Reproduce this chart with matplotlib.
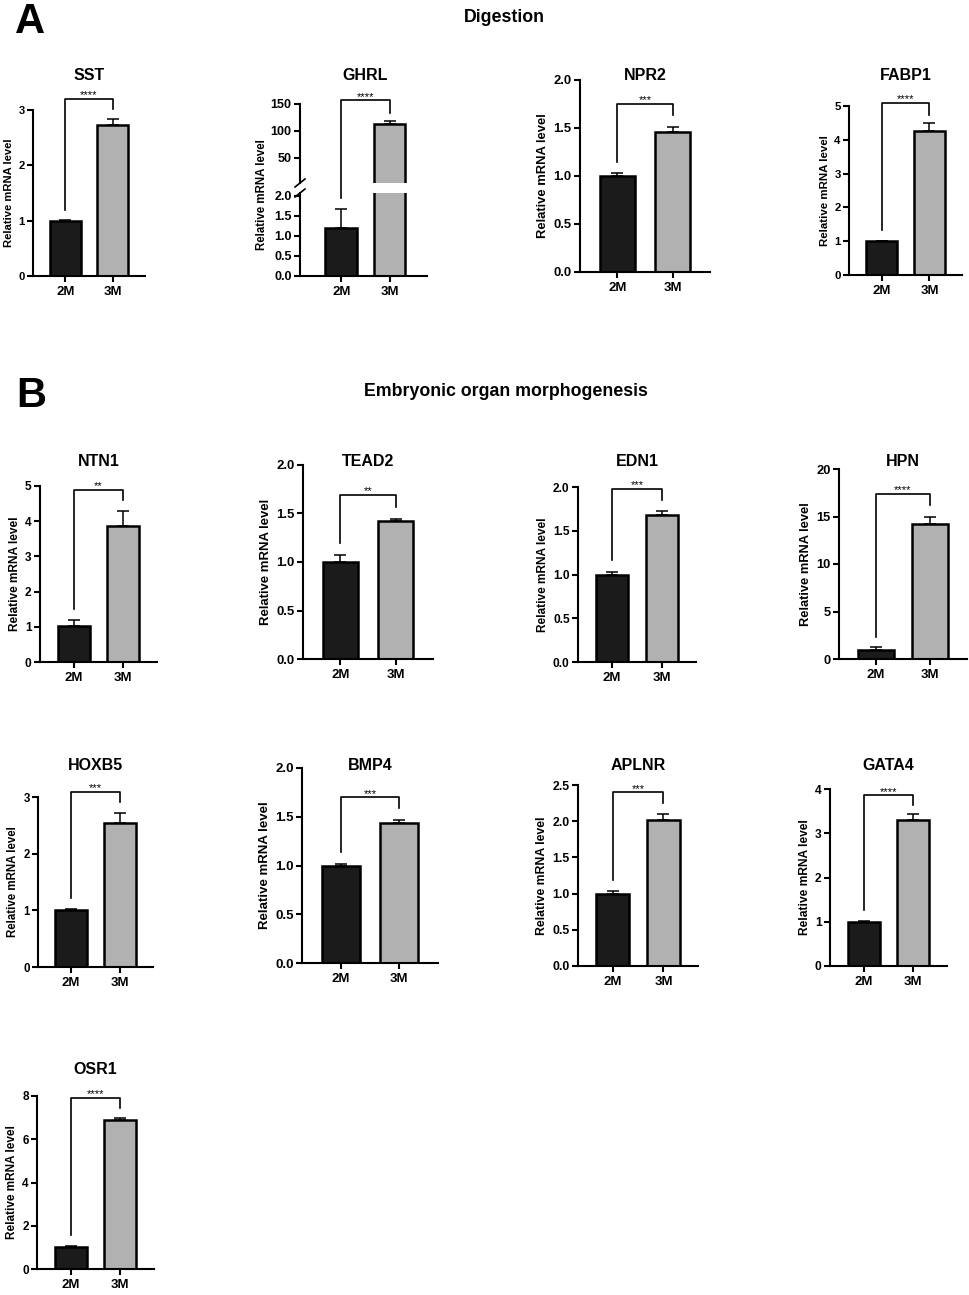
import matplotlib
matplotlib.use("Agg")
import matplotlib.pyplot as plt
from matplotlib import transforms
from matplotlib.lines import Line2D

plt.rcParams["font.family"] = ["Liberation Sans", "DejaVu Sans"]
plt.rcParams["font.weight"] = "bold"
plt.rcParams["axes.labelweight"] = "bold"

W, H = 969, 1295

# datos
genes = ["SST", "GHRL", "NPR2", "FABP1", "NTN1", "TEAD2", "EDN1", "HPN",
         "HOXB5", "BMP4", "APLNR", "GATA4", "OSR1"]
grupos = ["2M", "3M"]
media_2m = [1.0, 1.2, 1.0, 1.0, 1.02, 1.0, 1.0, 1.0, 1.0, 1.0, 1.0, 1.0, 1.0]
error_2m = [0.02, 0.48, 0.03, 0.02, 0.18, 0.07, 0.03, 0.3, 0.03, 0.02, 0.04, 0.02, 0.08]
media_3m = [2.73, 113, 1.46, 4.27, 3.85, 1.42, 1.68, 14.25, 2.55, 1.44, 2.02, 3.31, 6.9]
error_3m = [0.11, 6, 0.05, 0.23, 0.45, 0.02, 0.05, 0.7, 0.16, 0.03, 0.08, 0.12, 0.06]
estrellas = ["****", "****", "***", "****", "**", "**", "***", "****",
             "***", "***", "***", "****", "****"]
# corchete de significancia: altura, brazo izquierdo, brazo derecho
corchete_y = [3.2, 157, 1.75, 5.09, 4.89, 1.69, 1.98, 17.4, 3.09, 1.70, 2.40, 3.86, 7.9]
brazo_izq = [1.19, 1.95, 1.15, 1.33, 1.5, 1.2, 1.17, 2.3, 1.22, 1.14, 1.19, 1.27, 1.57]
brazo_der = [3.02, 133, 1.64, 4.73, 4.6, 1.57, 1.85, 16.2, 2.91, 1.59, 2.25, 3.64, 7.45]
y_max = [3, 150, 2.0, 5, 5, 2.0, 2.0, 20, 3, 2.0, 2.5, 4, 8]
y_paso = [1, 50, 0.5, 1, 1, 0.5, 0.5, 5, 1, 0.5, 0.5, 1, 2]

# posicion de cada panel en pixeles: (eje izq, eje der, tope eje y, base, y del titulo)
layout = [
    (33, 145, 110, 276, 75),
    (300, 427, 104, 276, 75),
    (580, 710, 80, 272, 75),
    (849, 962, 106, 275, 75),
    (40, 157, 486, 662, 462),
    (303, 433, 465, 659, 462),
    (578, 696, 487, 662, 462),
    (839, 967, 469, 659, 462),
    (38, 153, 797, 967, 766),
    (302, 438, 768, 963, 766),
    (578, 698, 785, 966, 766),
    (830, 947, 789, 966, 766),
    (37, 154, 1096, 1269, 1069),
]

color_2m = "#1b1b1b"
color_3m = "#b1b1b1"
ancho_barra = 0.65
lw_eje = 1.5


def rect(x0, x1, yt, yb):
    return [x0 / W, 1 - yb / H, (x1 - x0) / W, (yb - yt) / H]


def estilo_eje(ax, fs):
    for s in ["top", "right"]:
        ax.spines[s].set_visible(False)
    for s in ["left", "bottom"]:
        ax.spines[s].set_linewidth(lw_eje)
    ax.tick_params(width=lw_eje, length=4, labelsize=fs, pad=2)
    ax.tick_params(axis="x", labelsize=9.5, pad=3)


def barras(ax, i, con_error=(True, True)):
    x = [0, 1]
    ax.bar(x, [media_2m[i], media_3m[i]], width=ancho_barra,
           color=[color_2m, color_3m], edgecolor="black", linewidth=1.8, zorder=2)
    medias = [media_2m[i], media_3m[i]]
    errores = [error_2m[i], error_3m[i]]
    for k in range(2):
        if con_error[k]:
            ax.errorbar([x[k]], [medias[k]], yerr=[[0], [errores[k]]],
                        fmt="none", ecolor="black", elinewidth=1.1, capsize=4.5,
                        capthick=1.1, zorder=1)


def etiquetas_y(ax, ymax, paso, ymin=0):
    n = int(round((ymax - ymin) / paso))
    ticks = [ymin + k * paso for k in range(n + 1)]
    ax.set_yticks(ticks)
    if paso < 1:
        ax.set_yticklabels(["%.1f" % t for t in ticks])
    else:
        ax.set_yticklabels(["%d" % t for t in ticks])


fig = plt.figure(figsize=(W / 100, H / 100), dpi=100)

for i, gen in enumerate(genes):
    x0, x1, yt, yb, ty = layout[i]
    fs = (yb - yt) / 20.5

    if gen == "GHRL":
        fs = 9
        ax_b = fig.add_axes(rect(x0, x1, 193, yb))
        ax_a = fig.add_axes(rect(x0, x1, yt, 183))
        barras(ax_b, i, (True, False))
        barras(ax_a, i, (False, True))
        for ax in (ax_a, ax_b):
            ax.set_xlim(-0.85, 1.77)
            estilo_eje(ax, fs)
        ax_b.set_ylim(0, 2.0 * (yb - 193) / 80)
        etiquetas_y(ax_b, 2.0, 0.5)
        ax_a.set_ylim(3.7, 150)
        etiquetas_y(ax_a, 150, 50, ymin=50)
        ax_a.spines["bottom"].set_visible(False)
        ax_a.set_xticks([])
        ax_b.set_xticks([0, 1])
        ax_b.set_xticklabels(grupos)
        # marcas de corte del eje
        for yy in (183, 193):
            fig.add_artist(Line2D([(x0 - 5) / W, (x0 + 5) / W],
                                  [1 - (yy + 4) / H, 1 - (yy - 4) / H],
                                  transform=fig.transFigure, color="black", lw=1.2))
        fig.text(262 / W, 1 - 195 / H, "Relative mRNA level", rotation=90,
                 ha="center", va="center", fontsize=8.3)
        # brazo izquierdo llega al eje inferior
        p = ax_b.transData.transform((0, brazo_izq[i]))
        y_izq = ax_a.transData.inverted().transform(p)[1]
        ax_a.plot([0, 0, 1, 1], [y_izq, corchete_y[i], corchete_y[i], brazo_der[i]],
                  color="black", lw=1.2, clip_on=False)
        ax_a.annotate(estrellas[i], (0.5, corchete_y[i]), xytext=(0, -1),
                      textcoords="offset points", ha="center", va="bottom",
                      fontsize=8, fontweight="normal", annotation_clip=False)
        tr = transforms.blended_transform_factory(ax_b.transData, fig.transFigure)
        fig.text(0.5, 1 - ty / H, gen, transform=tr, ha="center", va="center",
                 fontsize=11.5)
        continue

    ax = fig.add_axes(rect(x0, x1, yt, yb))
    barras(ax, i)
    ax.set_xlim(-0.68, 1.68)
    ax.set_ylim(0, y_max[i])
    etiquetas_y(ax, y_max[i], y_paso[i])
    ax.set_xticks([0, 1])
    ax.set_xticklabels(grupos)
    estilo_eje(ax, fs)
    ax.set_ylabel("Relative mRNA level", fontsize=fs, labelpad=3)

    ax.plot([0, 0, 1, 1], [brazo_izq[i], corchete_y[i], corchete_y[i], brazo_der[i]],
            color="black", lw=1.2, clip_on=False)
    ax.annotate(estrellas[i], (0.5, corchete_y[i]), xytext=(0, -1),
                textcoords="offset points", ha="center", va="bottom",
                fontsize=8, fontweight="normal", annotation_clip=False)

    tr = transforms.blended_transform_factory(ax.transData, fig.transFigure)
    fig.text(0.5, 1 - ty / H, gen, transform=tr, ha="center", va="center",
             fontsize=11.5)

# titulos de seccion
fig.text(15 / W, 1 - 33 / H, "A", fontsize=30, ha="left", va="baseline")
fig.text(504 / W, 1 - 22 / H, "Digestion", fontsize=12.8, ha="center", va="baseline")
fig.text(16 / W, 1 - 407 / H, "B", fontsize=30, ha="left", va="baseline")
fig.text(506 / W, 1 - 396 / H, "Embryonic organ morphogenesis", fontsize=12.8,
         ha="center", va="baseline")

fig.savefig("out.png", dpi=100, facecolor="white")
